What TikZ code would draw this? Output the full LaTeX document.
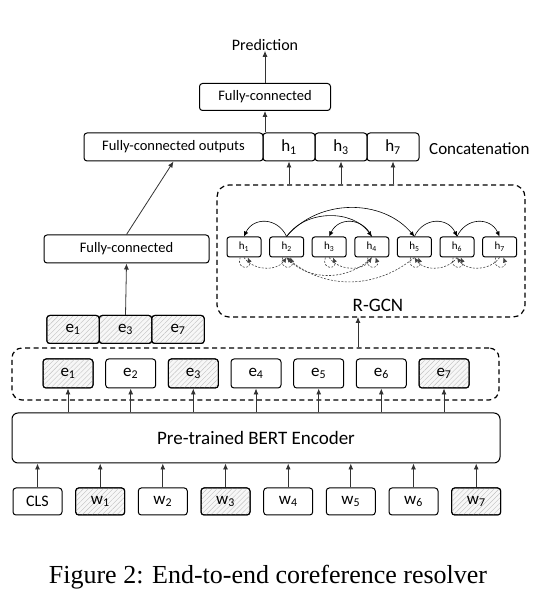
\documentclass[tikz,border=0pt]{standalone}
\usepackage{fontspec}
\setmainfont{Carlito}
\newfontfamily\capfont{Liberation Serif}
\usetikzlibrary{arrows.meta,patterns.meta}
\newcommand{\lbl}[2]{#1\textsubscript{#2}}

\begin{document}
\begin{tikzpicture}[x=1pt,y=1pt,
	>={Latex[length=6pt,width=5pt]},
	box/.style={draw,line width=1pt,rounded corners=3pt,inner sep=0pt,font=\fontsize{17}{20}\selectfont},
	hatch/.style={box,fill=gray!6,postaction={pattern={Lines[angle=45,distance=3.5pt,line width=0.4pt]},pattern color=gray!50},postaction={draw,line width=1pt}},
	frame/.style={draw,line width=1.2pt,dash pattern=on 5pt off 3.5pt,rounded corners=12pt,inner sep=0pt},
	up/.style={->,line width=0.8pt,draw=black!80},
	hbox/.style={box,rounded corners=2.5pt,minimum width=34pt,minimum height=20pt,font=\fontsize{11}{13}\selectfont},
	arc/.style={->,line width=0.6pt,>={Latex[length=5pt,width=4.5pt]}},
	darc/.style={arc,draw=black!75,dash pattern=on 2pt off 1.5pt}]
	\useasboundingbox (0,0) rectangle (551,597);
	
	% head
	\node (pred) at (265,552) [inner sep=0pt,font=\fontsize{16}{19}\selectfont] {Prediction};
	\node (fctop) at (265,500) [box,minimum width=131pt,minimum height=27pt,font=\fontsize{14.5}{17}\selectfont] {Fully-connected};
	\node (fcout) at (173.5,450) [box,minimum width=179pt,minimum height=28pt,font=\fontsize{14.5}{17}\selectfont] {Fully-connected outputs};
	\node (hc1) at (289,450) [box,minimum width=52pt,minimum height=28pt] {\lbl{h}{1}};
	\node (hc3) at (341,450) [box,minimum width=52pt,minimum height=28pt] {\lbl{h}{3}};
	\node (hc7) at (393,450) [box,minimum width=52pt,minimum height=28pt] {\lbl{h}{7}};
	\node (concat) at (429,448) [anchor=west,inner sep=0pt,font=\fontsize{17}{20}\selectfont] {Concatenation};
	\draw[up] (fctop.north) -- (pred.south);
	\draw[up] (fctop |- fcout.north) -- (fctop.south);
	
	% mention branch
	\node (fcleft) at (126.5,348) [box,minimum width=165pt,minimum height=28pt,font=\fontsize{14.5}{17}\selectfont] {Fully-connected};
	\node (m1) at (73,267.5) [hatch,minimum width=52.5pt,minimum height=28pt] {\lbl{e}{1}};
	\node (m3) at (125.5,267.5) [hatch,minimum width=52.5pt,minimum height=28pt] {\lbl{e}{3}};
	\node (m7) at (178,267.5) [hatch,minimum width=52.5pt,minimum height=28pt] {\lbl{e}{7}};
	\draw[up] (m3.north) -- (fcleft.south);
	\draw[up] (fcleft.north) -- (fcout.south);
	
	% R-GCN
	\node (rgcn) at (371,346) [frame,minimum width=308pt,minimum height=132pt] {};
	\node (rlab) at (378,292) [font=\fontsize{19}{22}\selectfont] {R-GCN};
	\node (r1) at (244,350) [hbox] {\lbl{h}{1}};
	\node (r2) at (286.6,350) [hbox] {\lbl{h}{2}};
	\node (r3) at (329.2,350) [hbox] {\lbl{h}{3}};
	\node (r4) at (371.8,350) [hbox] {\lbl{h}{4}};
	\node (r5) at (414.4,350) [hbox] {\lbl{h}{5}};
	\node (r6) at (457,350) [hbox] {\lbl{h}{6}};
	\node (r7) at (499.6,350) [hbox] {\lbl{h}{7}};
	\draw[arc] (r2.north) to[bend right=65,looseness=1.3] (r1.north);
	\draw[arc] (r2.north) to[bend left=55] (r4.north);
	\draw[arc] (r2.north) to[bend left=50] (r5.north);
	\draw[arc] (r4.north) to[bend right=65,looseness=1.3] (r3.north);
	\draw[arc] (r5.north) to[bend left=65,looseness=1.3] (r6.north);
	\draw[arc] (r6.north) to[bend left=65,looseness=1.3] (r7.north);
	\draw[darc] (r1.south) to[bend right=55] (r2.south);
	\draw[darc] (r3.south) to[bend right=55] (r4.south);
	\draw[darc] (r4.south) to[bend left=45] (r2.south);
	\draw[darc] (r5.south) to[bend left=40] (r2.south);
	\draw[darc] (r6.south) to[bend left=55] (r5.south);
	\draw[darc] (r7.south) to[bend left=55] (r6.south);
	\draw[darc] (r1) to[loop,out=250,in=290,min distance=13pt] (r1);
	\draw[darc] (r2) to[loop,out=250,in=290,min distance=13pt] (r2);
	\draw[darc] (r3) to[loop,out=250,in=290,min distance=13pt] (r3);
	\draw[darc] (r4) to[loop,out=250,in=290,min distance=13pt] (r4);
	\draw[darc] (r5) to[loop,out=250,in=290,min distance=13pt] (r5);
	\draw[darc] (r6) to[loop,out=250,in=290,min distance=13pt] (r6);
	\draw[darc] (r7) to[loop,out=250,in=290,min distance=13pt] (r7);
	\draw[up] (hc1 |- rgcn.north) -- (hc1.south);
	\draw[up] (hc3 |- rgcn.north) -- (hc3.south);
	\draw[up] (hc7 |- rgcn.north) -- (hc7.south);
	
	% embeddings
	\node (emb) at (255.5,223) [frame,rounded corners=10pt,minimum width=487pt,minimum height=52pt] {};
	\node (e1) at (68,223.5) [hatch,minimum width=50pt,minimum height=29pt] {\lbl{e}{1}};
	\node (e2) at (130.7,223.5) [box,minimum width=50pt,minimum height=29pt] {\lbl{e}{2}};
	\node (e3) at (193.3,223.5) [hatch,minimum width=50pt,minimum height=29pt] {\lbl{e}{3}};
	\node (e4) at (256,223.5) [box,minimum width=50pt,minimum height=29pt] {\lbl{e}{4}};
	\node (e5) at (318.7,223.5) [box,minimum width=50pt,minimum height=29pt] {\lbl{e}{5}};
	\node (e6) at (381.3,223.5) [box,minimum width=50pt,minimum height=29pt] {\lbl{e}{6}};
	\node (e7) at (444,223.5) [hatch,minimum width=50pt,minimum height=29pt] {\lbl{e}{7}};
	\coordinate (rin) at (358,280);
	\draw[up] (emb.north -| rin) -- (rin);
	
	% encoder
	\node (bert) at (256,159) [box,rounded corners=6pt,minimum width=488pt,minimum height=50pt,font=\fontsize{19}{22}\selectfont] {Pre-trained BERT Encoder};
	\draw[up] (e1 |- bert.north) -- (e1.south);
	\draw[up] (e2 |- bert.north) -- (e2.south);
	\draw[up] (e3 |- bert.north) -- (e3.south);
	\draw[up] (e4 |- bert.north) -- (e4.south);
	\draw[up] (e5 |- bert.north) -- (e5.south);
	\draw[up] (e6 |- bert.north) -- (e6.south);
	\draw[up] (e7 |- bert.north) -- (e7.south);
	
	% input tokens
	\node (w0) at (37.5,95.5) [box,minimum width=49pt,minimum height=27pt,font=\fontsize{16}{19}\selectfont] {CLS};
	\node (w1) at (100.2,95.5) [hatch,minimum width=49pt,minimum height=27pt] {\lbl{w}{1}};
	\node (w2) at (162.8,95.5) [box,minimum width=49pt,minimum height=27pt] {\lbl{w}{2}};
	\node (w3) at (225.5,95.5) [hatch,minimum width=49pt,minimum height=27pt] {\lbl{w}{3}};
	\node (w4) at (288.2,95.5) [box,minimum width=49pt,minimum height=27pt] {\lbl{w}{4}};
	\node (w5) at (350.8,95.5) [box,minimum width=49pt,minimum height=27pt] {\lbl{w}{5}};
	\node (w6) at (413.5,95.5) [box,minimum width=49pt,minimum height=27pt] {\lbl{w}{6}};
	\node (w7) at (476.2,95.5) [hatch,minimum width=49pt,minimum height=27pt] {\lbl{w}{7}};
	\draw[up] (w0.north) -- (w0 |- bert.south);
	\draw[up] (w1.north) -- (w1 |- bert.south);
	\draw[up] (w2.north) -- (w2 |- bert.south);
	\draw[up] (w3.north) -- (w3 |- bert.south);
	\draw[up] (w4.north) -- (w4 |- bert.south);
	\draw[up] (w5.north) -- (w5 |- bert.south);
	\draw[up] (w6.north) -- (w6 |- bert.south);
	\draw[up] (w7.north) -- (w7 |- bert.south);
	
	\node (cap) at (268,13) [anchor=base,inner sep=0pt,font=\capfont\fontsize{26}{29}\selectfont] {Figure 2: End-to-end coreference resolver};
\end{tikzpicture}
\end{document}
